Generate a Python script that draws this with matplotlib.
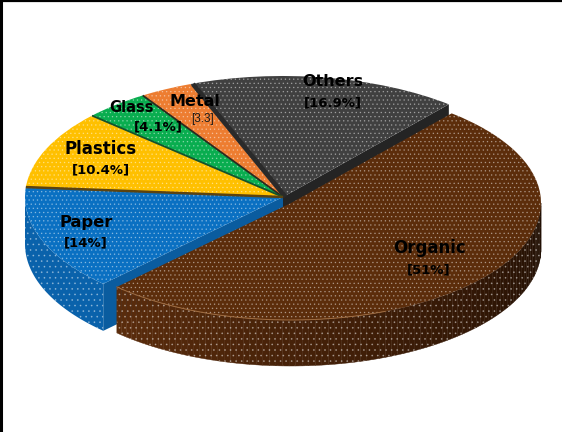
import numpy as np
import matplotlib
matplotlib.use("Agg")
import matplotlib.pyplot as plt
from matplotlib.colors import to_rgb
from matplotlib.transforms import Affine2D

# Waste shares, going counterclockwise from the Others slice
categories = ["Others", "Metal", "Glass", "Plastics", "Paper", "Organic"]
shares = [16.9, 3.3, 4.1, 10.4, 14, 51]
share_labels = ["[16.9%]", "[3.3]", "[4.1%]", "[10.4%]", "[14%]", "[51%]"]

top_colors = ["#404040", "#ed7d31", "#09ad4f", "#ffc000", "#0a70c2", "#5c2d0b"]

# Pie geometry in image pixels
cx, cy, a, b = 283, 197, 258, 121
org_cx, org_cy, org_a, org_b = 291, 203, 250, 117
start_angle = 50
depth = 47
dots = (1, 1, 1, 0.38)

plt.rcParams["hatch.linewidth"] = 0.5

fig = plt.figure(figsize=(5.62, 4.32), dpi=100)
ax = fig.add_axes([0, 0, 1, 1])

# slice boundaries
edges = start_angle + 360 * np.cumsum([0] + shares) / sum(shares)


def rim(t_deg, x0=cx, y0=cy, ra=a, rb=b):
    t = np.radians(t_deg)
    return x0 + ra * np.cos(t), y0 - rb * np.sin(t)


# radial walls that are partly hidden by the organic slice
x_e, y_e = rim(edges[0])
ax.fill([cx, x_e, x_e, cx], [cy, y_e, y_e + depth, cy + depth], color="#242424", lw=0, zorder=1)
x_e, y_e = rim(edges[5])
ax.fill([cx, x_e, x_e, cx], [cy, y_e, y_e + depth, cy + depth], color="#0a5c9f", lw=0, zorder=1)

# outer wall of the paper slice
t = np.linspace(180, edges[5], 40)
x_r, y_r = rim(t)
ax.fill(np.r_[x_r, x_r[::-1]], np.r_[y_r, y_r[::-1] + depth], facecolor="#0a62ab", lw=0, zorder=1,
        hatch="...", edgecolor=dots)

# top faces through pie, then stretched to the ellipse
wedges, _ = ax.pie(shares, startangle=start_angle, counterclock=True, colors=top_colors,
                   wedgeprops=dict(linewidth=0, edgecolor=dots, hatch="....", zorder=2))
for w in wedges[:-1]:
    w.set_transform(Affine2D().scale(a, -b).translate(cx, cy) + ax.transData)
wedges[-1].set_transform(Affine2D().scale(org_a, -org_b).translate(org_cx, org_cy) + ax.transData)
wedges[-1].set_zorder(4)

# dark seams between the upper slices
seam_colors = ["#2a2a2a", "#2b2b20", "#14532d", "#5c4310"]
seam_widths = [3.4, 1.3, 1.3, 1.8]
seam_shift = [2.5, 0, 0, 0]
for i in range(4):
    x_e, y_e = rim(edges[i + 1])
    ax.plot([cx + seam_shift[i], x_e + seam_shift[i]], [cy, y_e], color=seam_colors[i],
            lw=seam_widths[i], solid_capstyle="butt", zorder=3)

# outer wall of the organic slice, shaded from left to right
side_stops = [to_rgb(c) for c in ["#5a2c0c", "#3c1c07", "#1f0e03"]]
t = np.linspace(edges[5], 360, 90)
for i in range(len(t) - 1):
    f = (t[i] - t[0]) / (t[-1] - t[0])
    col = [np.interp(f, [0, 0.5, 1], [s[k] for s in side_stops]) for k in range(3)]
    seg = np.linspace(t[i], t[i + 1], 3)
    x_r, y_r = rim(seg, org_cx, org_cy, org_a, org_b)
    ax.fill(np.r_[x_r, x_r[::-1]], np.r_[y_r, y_r[::-1] + depth - 1], color=col, lw=0.3, zorder=3)
x_r, y_r = rim(t, org_cx, org_cy, org_a, org_b)
ax.fill(np.r_[x_r, x_r[::-1]], np.r_[y_r, y_r[::-1] + depth - 1], facecolor="none", lw=0, zorder=3.5,
        hatch="...", edgecolor=dots)
ax.plot(x_r[:45], y_r[:45], color="#a06c40", lw=0.7, zorder=5)

# labels
name_xy = [(333, 82), (195, 101), (131, 107), (101, 149), (86, 222), (429, 248)]
share_xy = [(333, 103), (202, 119), (158, 127), (101, 170), (86, 243), (429, 270)]
name_sizes = [11.5, 11.5, 10.5, 12, 11.8, 12]
for i in range(6):
    ax.text(name_xy[i][0], name_xy[i][1], categories[i], ha="center", va="center", fontsize=name_sizes[i],
            fontweight="bold", color="black", zorder=6)
    if i == 1:
        ax.text(share_xy[i][0], share_xy[i][1], share_labels[i], ha="center", va="center", fontsize=8.5,
                family=["Liberation Sans Narrow", "Liberation Sans"], color="#1a1a1a", zorder=6)
    else:
        ax.text(share_xy[i][0], share_xy[i][1], share_labels[i], ha="center", va="center", fontsize=9.5,
                fontweight="bold", color="black", zorder=6)

# frame of the picture, left and top only
ax.plot([1.2, 1.2], [432, 0], color="black", lw=2.2, zorder=7)
ax.plot([0, 562], [0.8, 0.8], color="black", lw=1.6, zorder=7)

ax.set_aspect("auto")
ax.set_xlim(0, 562)
ax.set_ylim(432, 0)
ax.axis("off")

fig.savefig("out.png", dpi=100, facecolor="white")
